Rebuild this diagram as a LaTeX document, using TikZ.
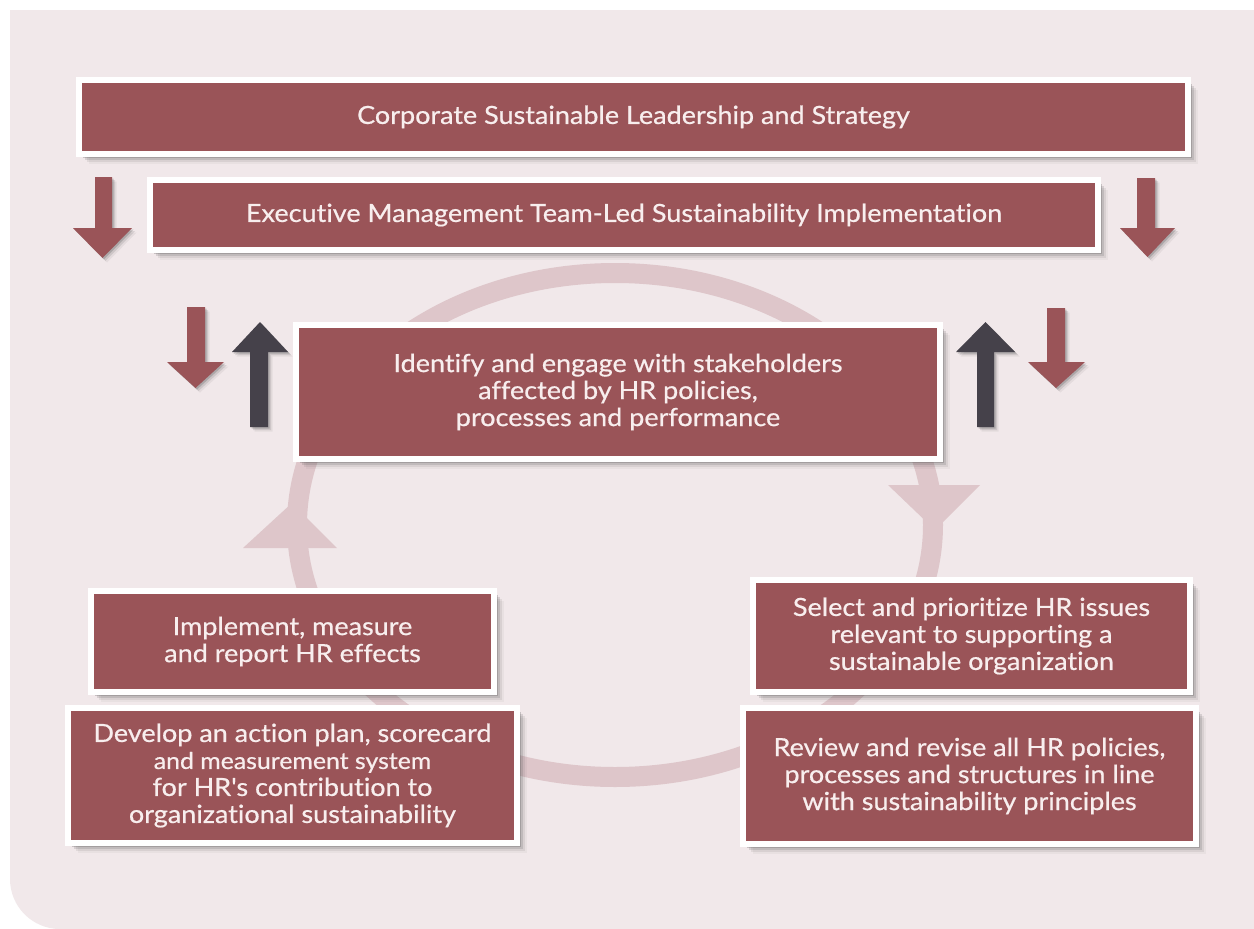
\documentclass[tikz,border=0pt]{standalone}
\usepackage{fontspec}
\setmainfont{Lato}
\newfontfamily\boxfont{Lato}[Ligatures=NoCommon, FakeBold=0.6, FakeStretch=1.08]
\usetikzlibrary{shadows}

\definecolor{panelbg}{HTML}{F1E8EA}
\definecolor{boxfill}{HTML}{9A5458}
\definecolor{ringc}{HTML}{DEC6CA}
\definecolor{darkarrowc}{HTML}{45414A}
\definecolor{txt}{HTML}{F8EEEE}

\tikzset{
  box shadow/.style={
    drop shadow={shadow xshift=4pt,shadow yshift=-4pt,opacity=.25,fill=black!70},
    drop shadow={shadow xshift=6pt,shadow yshift=-6pt,opacity=.16,fill=black!70},
    drop shadow={shadow xshift=8pt,shadow yshift=-8pt,opacity=.10,fill=black!70},
    drop shadow={shadow xshift=10pt,shadow yshift=-10pt,opacity=.05,fill=black!70}},
  arrow shadow/.style={
    drop shadow={shadow xshift=1.5pt,shadow yshift=-1.5pt,opacity=.25,fill=black!70},
    drop shadow={shadow xshift=3pt,shadow yshift=-3pt,opacity=.15,fill=black!70},
    drop shadow={shadow xshift=4.5pt,shadow yshift=-4.5pt,opacity=.08,fill=black!70}},
  stagebox/.style={draw=white, line width=6pt, fill=boxfill, text=txt,
    align=center, font=\boxfont\fontsize{25}{27}\selectfont, anchor=north west,
    inner sep=0pt, box shadow},
  redarrow/.style={fill=boxfill, arrow shadow},
  darkarrow/.style={fill=darkarrowc, arrow shadow},
  ringhead/.style={fill=ringc},
}

\begin{document}
\begin{tikzpicture}[x=1pt,y=-1pt]
  \useasboundingbox (0,0) rectangle (1254,929);
  \fill[white] (0,0) rectangle (1254,929);

  % backdrop panel with one rounded corner
  \fill[panelbg] (10,10) -- (1254,10) -- (1254,929) -- (60,929)
    arc[start angle=90, end angle=180, x radius=50, y radius=50] -- cycle;

  % faint cycle ring with its two arrowheads
  \draw[ringc, line width=20pt] (615,525) ellipse [x radius=318, y radius=252];
  \fill[ringhead] (243,548) -- (292,503) -- (337,548) -- cycle;
  \fill[ringhead] (888,485) -- (980,485) -- (935,530) -- cycle;

  % block arrows beside the two top bars
  \path[redarrow] (95,177) -- (112,177) -- (112,228) -- (132,228) -- (102.5,258)
    -- (73,228) -- (95,228) -- cycle;
  \path[redarrow] (1137,178) -- (1155,178) -- (1155,228) -- (1175,228) -- (1147.5,257)
    -- (1120,228) -- (1137,228) -- cycle;

  % block arrows beside the stakeholder box
  \path[redarrow] (187,307) -- (205,307) -- (205,362) -- (224,362) -- (195.5,388)
    -- (167,362) -- (187,362) -- cycle;
  \path[darkarrow] (250,427) -- (268,427) -- (268,352) -- (288,352) -- (260,322)
    -- (232,352) -- (250,352) -- cycle;
  \path[darkarrow] (977,427) -- (994,427) -- (994,352) -- (1015,352) -- (985.5,322)
    -- (956,352) -- (977,352) -- cycle;
  \path[redarrow] (1047,308) -- (1065,308) -- (1065,362) -- (1085,362) -- (1056,388)
    -- (1028,362) -- (1047,362) -- cycle;

  % stage boxes
  \node[stagebox, minimum width=1109pt, minimum height=74pt] (lead) at (76,77)
    {Corporate Sustainable Leadership and Strategy};
  \node[stagebox, minimum width=948pt, minimum height=70pt] (exec) at (147,177)
    {Executive Management Team-Led Sustainability Implementation};
  \node[stagebox, minimum width=644pt, minimum height=134pt] (ident) at (293,322)
    {Identify and engage with stakeholders\\affected by HR policies,\\processes and performance};
  \node[stagebox, minimum width=403pt, minimum height=101pt] (impl) at (88,588)
    {Implement, measure\\and report HR effects};
  \node[stagebox, minimum width=449pt, minimum height=135pt] (plan) at (65,705)
    {Develop an action plan, scorecard\\{\fontsize{23}{26}\selectfont and measurement system}\\for HR's contribution to\\organizational sustainability};
  \node[stagebox, minimum width=437pt, minimum height=112pt] (select) at (750,577)
    {Select and prioritize HR issues\\relevant to supporting a\\sustainable organization};
  \node[stagebox, minimum width=453pt, minimum height=136pt] (review) at (740,705)
    {Review and revise all HR policies,\\processes and structures in line\\with sustainability principles};
\end{tikzpicture}
\end{document}
